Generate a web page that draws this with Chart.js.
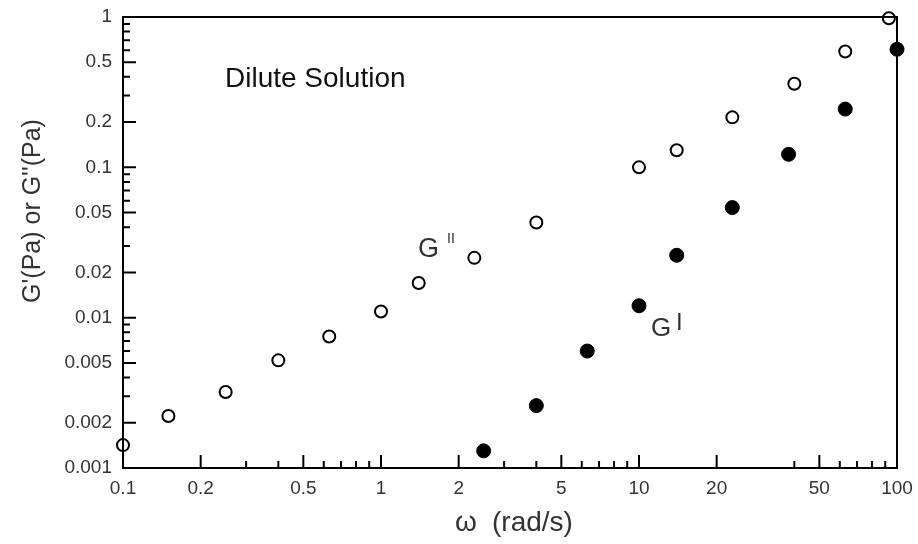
<!DOCTYPE html>
<html>
<head>
<meta charset="utf-8">
<script src="https://cdn.jsdelivr.net/npm/chart.js@4/dist/chart.umd.min.js"></script>
<style>
  html, body { margin: 0; padding: 0; background: #ffffff; }
  #wrap { width: 918px; height: 544px; position: relative; }
</style>
</head>
<body>
<div id="wrap"><canvas id="c" width="918" height="544"></canvas></div>
<script>
// ---- data ----
const freqLoss = [0.1, 0.15, 0.25, 0.4, 0.63, 1.0, 1.4, 2.3, 4.0, 10, 14, 23, 40, 63, 93];
const lossModulus = [0.00142, 0.00222, 0.0032, 0.0052, 0.0075, 0.011, 0.017, 0.025, 0.043, 0.10, 0.13, 0.215, 0.36, 0.59, 0.98];
const freqStorage = [2.5, 4.0, 6.3, 10, 14, 23, 38, 63, 100];
const storageModulus = [0.0013, 0.0026, 0.006, 0.012, 0.026, 0.054, 0.122, 0.244, 0.61];

const xTickValues = [0.1, 0.2, 0.5, 1, 2, 5, 10, 20, 50, 100];
const xTickLabels = ['0.1', '0.2', '0.5', '1', '2', '5', '10', '20', '50', '100'];
const xMinorTicks = [0.3, 0.4, 0.6, 0.7, 0.8, 0.9, 3, 4, 6, 7, 8, 9, 40, 60, 70, 80, 90];
const yTickValues = [0.001, 0.002, 0.005, 0.01, 0.02, 0.05, 0.1, 0.2, 0.5, 1];
const yTickLabels = ['0.001', '0.002', '0.005', '0.01', '0.02', '0.05', '0.1', '0.2', '0.5', '1'];
const yMinorTicks = [0.003, 0.004, 0.006, 0.007, 0.008, 0.009, 0.03, 0.04, 0.06, 0.07, 0.08, 0.09, 0.3, 0.4, 0.6, 0.7, 0.8, 0.9];

const FONT = '"Liberation Sans", Arial, sans-serif';

const frame = {
  id: 'frame',
  afterDatasetsDraw(chart) {
    const {ctx, chartArea: a, scales: {x, y}} = chart;
    ctx.save();
    ctx.strokeStyle = '#000';
    ctx.lineWidth = 2;
    ctx.strokeRect(a.left, a.top, a.right - a.left, a.bottom - a.top);
    ctx.beginPath();
    xTickValues.forEach(v => { const px = x.getPixelForValue(v); ctx.moveTo(px, a.bottom); ctx.lineTo(px, a.bottom - 13); });
    xMinorTicks.forEach(v => { const px = x.getPixelForValue(v); ctx.moveTo(px, a.bottom); ctx.lineTo(px, a.bottom - 7); });
    yTickValues.forEach(v => { const py = y.getPixelForValue(v); ctx.moveTo(a.left, py); ctx.lineTo(a.left + 13, py); });
    yMinorTicks.forEach(v => { const py = y.getPixelForValue(v); ctx.moveTo(a.left, py); ctx.lineTo(a.left + 7, py); });
    ctx.stroke();
    ctx.restore();
  },
  afterDraw(chart) {
    const ctx = chart.ctx;
    ctx.save();
    ctx.textBaseline = 'alphabetic';
    ctx.textAlign = 'left';
    ctx.fillStyle = '#111';
    ctx.font = '28px ' + FONT;
    ctx.fillText('Dilute Solution', 225, 87);
    ctx.fillStyle = '#333';
    ctx.font = '27px ' + FONT;
    ctx.fillText('G', 418, 257);
    ctx.font = '14px ' + FONT;
    ctx.fillText('II', 447, 243);
    ctx.font = '26px ' + FONT;
    ctx.fillText('G', 651, 336);
    ctx.font = '24px ' + FONT;
    ctx.fillText('I', 676, 330);
    // axis titles
    ctx.fillStyle = '#333';
    ctx.font = '28px ' + FONT;
    ctx.textBaseline = 'middle';
    ctx.fillText('ω', 455, 523);
    ctx.fillText('(rad/s)', 492, 523);
    ctx.translate(33, 211);
    ctx.rotate(-Math.PI / 2);
    ctx.textAlign = 'center';
    ctx.font = '25px ' + FONT;
    ctx.fillText("G'(Pa) or G''(Pa)", 0, 0);
    ctx.restore();
  }
};

new Chart(document.getElementById('c'), {
  type: 'scatter',
  data: {
    datasets: [
      {
        label: "G''",
        data: freqLoss.map((f, i) => ({x: f, y: lossModulus[i]})),
        pointStyle: 'circle',
        pointRadius: 6,
        pointBorderWidth: 2,
        pointBackgroundColor: '#ffffff',
        pointBorderColor: '#000000',
        clip: false
      },
      {
        label: "G'",
        data: freqStorage.map((f, i) => ({x: f, y: storageModulus[i]})),
        pointStyle: 'circle',
        pointRadius: 7,
        pointBorderWidth: 1,
        pointBackgroundColor: '#000000',
        pointBorderColor: '#000000',
        clip: false
      }
    ]
  },
  options: {
    responsive: false,
    animation: false,
    events: [],
    layout: { autoPadding: false, padding: { left: 0, right: 21, top: 17, bottom: 0 } },
    plugins: { legend: { display: false }, tooltip: { enabled: false } },
    scales: {
      x: {
        type: 'logarithmic',
        min: 0.1, max: 100,
        grid: { display: false, drawTicks: false },
        border: { display: false },
        afterBuildTicks: s => { s.ticks = xTickValues.map(v => ({value: v})); },
        afterFit: s => { s.height = 76; s.paddingLeft = 0; s.paddingRight = 0; },
        ticks: {
          autoSkip: false, maxRotation: 0, padding: 9,
          color: '#333', font: { family: FONT, size: 19 },
          callback: (v, i) => xTickLabels[i]
        }
      },
      y: {
        type: 'logarithmic',
        min: 0.001, max: 1,
        grid: { display: false, drawTicks: false },
        border: { display: false },
        afterBuildTicks: s => { s.ticks = yTickValues.map(v => ({value: v})); },
        afterFit: s => { s.width = 123; s.paddingTop = 0; s.paddingBottom = 0; },
        ticks: {
          autoSkip: false, padding: 11,
          color: '#333', font: { family: FONT, size: 19 },
          callback: (v, i) => yTickLabels[i]
        }
      }
    }
  },
  plugins: [frame]
});
</script>
</body>
</html>
